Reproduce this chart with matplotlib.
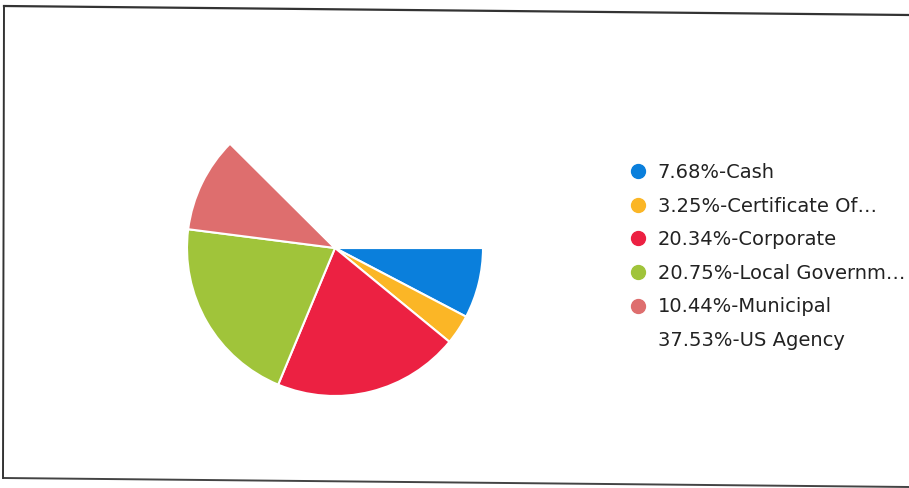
import matplotlib
matplotlib.use('Agg')
import matplotlib.pyplot as plt
from matplotlib.lines import Line2D

plt.rcParams['font.family'] = ['DejaVu Sans']

# data
names = ['Cash', 'Certificate Of…', 'Corporate', 'Local Governm…', 'Municipal', 'US Agency']
shares = [7.68, 3.25, 20.34, 20.75, 10.44, 37.53]
colors = ['#0a7fdc', '#fbb626', '#ec2142', '#a0c43a', '#de6e6e', '#ffffff']

W, H = 909, 488
fig = plt.figure(figsize=(W / 100, H / 100), dpi=100)

# scanned frame (slightly tilted)
fig.add_artist(Line2D([4 / W, 1.0], [1 - 6 / H, 1 - 15 / H], color='#333333', lw=1.6))
fig.add_artist(Line2D([4 / W, 1.0], [1 - 478 / H, 1 - 487 / H], color='#444444', lw=1.4))
fig.add_artist(Line2D([4 / W, 3 / W], [1 - 6 / H, 1 - 478 / H], color='#333333', lw=1.4))

cx, cy, r = 335, 248, 148
ax = fig.add_axes([(cx - r) / W, 1 - (cy + r) / H, 2 * r / W, 2 * r / H])
ax.pie(shares, colors=colors, startangle=0, counterclock=False, radius=1,
       wedgeprops=dict(edgecolor='white', linewidth=1.5))
ax.set_xlim(-1, 1)
ax.set_ylim(-1, 1)
ax.set_aspect('equal')
ax.axis('off')

handles = [Line2D([], [], ls='none', marker='o', ms=10, mfc=c, mec=c) for c in colors]
labels = [f'{v:.2f}%-{n}' for v, n in zip(shares, names)]
fig.legend(handles, labels, loc='upper left', bbox_to_anchor=(628 / W, 1 - 163 / H),
           frameon=False, fontsize=14, labelcolor='#222222', handlelength=1.0,
           handletextpad=0.53, labelspacing=0.75, borderaxespad=0, borderpad=0)

fig.savefig('out.png', dpi=100)
